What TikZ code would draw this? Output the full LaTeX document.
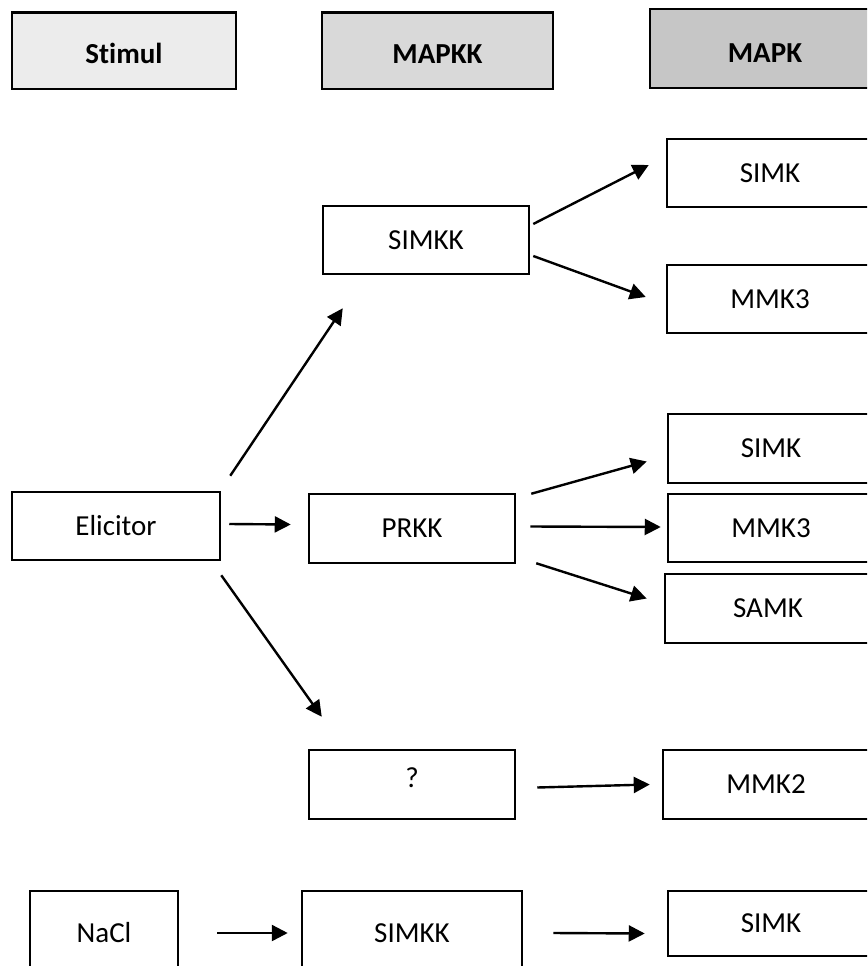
\documentclass[tikz,border=0pt]{standalone}
\usepackage{fontspec}
\setmainfont{Carlito}[Ligatures=CommonOff]
\usetikzlibrary{arrows.meta}
\newcommand\boxfont{\fontsize{29}{34}\selectfont}

\begin{document}
\begin{tikzpicture}[x=1pt, y=-1pt,
        box/.style={draw, line width=2.5pt, minimum width=206pt, minimum height=68pt, inner sep=0pt, font=\boxfont},
        head/.style={draw, line width=2.8pt, minimum height=76.5pt, inner sep=0pt, text height=25pt, font=\boxfont\bfseries},
        arr/.style={line width=2.4pt, -{Triangle[length=16pt, width=16pt]}}]
        \useasboundingbox (0,0) rectangle (867,966);
        \clip (0,0) rectangle (867,966);
        \node[head, fill=gray!15, minimum width=224pt] (stimul) at (124,50.75) {Stimul};
        \node[head, fill=gray!30, minimum width=231pt] (mapkk) at (437.5,50.75) {MAPKK};
        \node[head, fill=gray!45, minimum width=230pt, minimum height=79pt, text height=29pt] (mapk) at (765,48.5) {MAPK};
        \node[box] (simkk1) at (426,240) {SIMKK};
        \node[box] (simk1) at (770,173) {SIMK};
        \node[box] (mmk3a) at (770,299) {MMK3};
        \node[box, minimum width=208pt] (elic) at (116,526) {Elicitor};
        \node[box, minimum height=69pt] (prkk) at (412,528.5) {PRKK};
        \node[box, minimum height=69pt] (simk2) at (771,448.5) {SIMK};
        \node[box] (mmk3b) at (771,528) {MMK3};
        \node[box, minimum height=69pt] (samk) at (768,608.5) {SAMK};
        \node[box, minimum height=69pt, text depth=14pt] (unk) at (412,784.5) {?};
        \node[box, minimum height=69pt] (mmk2) at (766,784.5) {MMK2};
        \node[box, minimum width=148pt, minimum height=84pt] (nacl) at (104,933) {NaCl};
        \node[box, minimum width=220pt, minimum height=84pt] (simkk2) at (412,933) {SIMKK};
        \node[box, minimum height=65pt] (simk3) at (771,923.5) {SIMK};
        \draw[arr] ([shift={(3,-16)}]simkk1.east) -- ([shift={(-17,-8)}]simk1.west);
        \draw[arr] ([shift={(3,16)}]simkk1.east) -- ([shift={(-20,-2)}]mmk3a.west);
        \draw[arr] ([shift={(9,-15)}]elic.north east) -- ([shift={(21,33)}]simkk1.south west);
        \draw[arr] ([shift={(8,-2)}]elic.east) -- ([shift={(-17,-4)}]prkk.west);
        \draw[arr] ([shift={(0,14)}]elic.south east) -- ([shift={(14,-32)}]unk.north west);
        \draw[arr] ([shift={(15,1)}]prkk.north east) -- ([shift={(-20,13)}]simk2.west);
        \draw[arr] ([shift={(14,-2)}]prkk.east) -- ([shift={(-6,-1)}]mmk3b.west);
        \draw[arr] ([shift={(20,-1)}]prkk.south east) -- ([shift={(-17,-10)}]samk.west);
        \draw[arr] ([shift={(21,3)}]unk.east) -- ([shift={(-12,0)}]mmk2.west);
        \draw[arr] ([shift={(38,0)}]nacl.east) -- ([shift={(-13,0)}]simkk2.west);
        \draw[arr] ([shift={(30,0)}]simkk2.east) -- ([shift={(-22,10)}]simk3.west);
\end{tikzpicture}
\end{document}
